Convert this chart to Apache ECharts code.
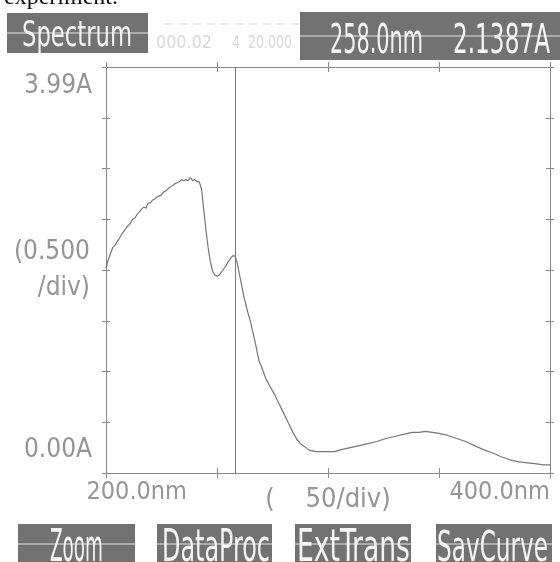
<!DOCTYPE html>
<html><head><meta charset="utf-8">
<script src="https://cdn.jsdelivr.net/npm/echarts@6/dist/echarts.min.js"></script>
<style>html,body{margin:0;padding:0;background:#fff}#c{width:560px;height:562px}</style>
</head><body><div id="c"></div>
<script>
// ---- data ----
const wavelengths = [200,201,202,203,204,205,206,207,208,209,210,211,212,213,214,215,216,217,218,219,220,221,222,223,224,225,226,227,228,229,230,231,232,233,234,235,236,237,238,239,240,241,242,243,244,245,246,247,248,249,250,251,252,253,254,255,256,257,258,259,260,261,262,263,264,265,266,267,268,269,270,271,272,274,276,278,280,282,284,286,288,290,292,295,300,303,306,310,314,318,322,326,330,334,338,341,344,347,350,354,358,362,366,370,374,378,382,386,390,394,397,400];
const absorbance = [2.02,2.10,2.16,2.22,2.24,2.28,2.31,2.35,2.38,2.41,2.44,2.46,2.50,2.51,2.55,2.57,2.60,2.62,2.61,2.66,2.66,2.69,2.70,2.72,2.73,2.74,2.77,2.78,2.80,2.82,2.83,2.85,2.86,2.87,2.89,2.88,2.89,2.88,2.91,2.88,2.89,2.87,2.87,2.80,2.60,2.40,2.22,2.08,1.99,1.95,1.94,1.95,1.98,2.01,2.04,2.08,2.11,2.14,2.14,2.08,1.97,1.86,1.75,1.66,1.57,1.50,1.40,1.31,1.20,1.10,1.05,0.99,0.93,0.85,0.77,0.68,0.59,0.50,0.41,0.33,0.28,0.25,0.22,0.21,0.21,0.21,0.23,0.25,0.27,0.29,0.31,0.34,0.36,0.38,0.40,0.40,0.41,0.40,0.39,0.37,0.34,0.31,0.27,0.23,0.20,0.16,0.13,0.11,0.10,0.09,0.08,0.08];
const cursorWavelength = 258.0;
const cursorAbsorbance = 2.1387;
const xTickLabels = {200: '200.0nm', 400: '400.0nm'};
const yTickLabels = {0: '0.00A', 4: '3.99A'};
const xAxisName = '(    50/div)';
const yAxisName = '(0.500\n/div)';
const headerTitle = 'Spectrum';
const buttons = ['Zoom', 'DataProc', 'ExtTrans', 'SavCurve'];

// ---- chart ----
const FONT = "'DejaVu Sans Condensed', 'DejaVu Sans', sans-serif";
const GREY = '#8a8a8a';
const TXT = '#959595';
const chart = echarts.init(document.getElementById('c'), null, {renderer: 'canvas'});

function xAx(pos, inside, labels) {
  return {
    type: 'value', position: pos, min: 200, max: 400, interval: 50,
    axisLine: {show: true, onZero: false, lineStyle: {color: GREY, width: 1}},
    axisTick: {show: true, inside: inside, length: 5, lineStyle: {color: GREY}},
    splitLine: {show: false},
    axisLabel: labels ? {
      show: true, color: TXT, fontFamily: FONT, fontSize: 25, margin: 7,
      formatter: v => v === 200 ? '{lo|' + xTickLabels[v] + '}' : (xTickLabels[v] || ''),
      alignMaxLabel: 'right',
      rich: {lo: {width: 162, align: 'right', color: TXT, fontFamily: FONT, fontSize: 25}}
    } : {show: false},
    name: labels ? xAxisName : '', nameLocation: 'middle', nameGap: 13, nameMoveOverlap: false,
    nameTextStyle: {color: TXT, fontFamily: FONT, fontSize: 27, verticalAlign: 'top'}
  };
}
function yAx(pos, inside, labels) {
  return {
    type: 'value', position: pos, min: 0, max: 4, interval: 0.5,
    axisLine: {show: true, onZero: false, lineStyle: {color: GREY, width: 1}},
    axisTick: {show: true, inside: inside, length: 4, lineStyle: {color: GREY}},
    splitLine: {show: false},
    axisLabel: labels ? {
      show: true, color: TXT, fontFamily: FONT, fontSize: 26, margin: 14,
      formatter: v => v === 0 ? '{b|' + yTickLabels[v] + '}' : (v === 4 ? '{t|' + yTickLabels[v] + '}' : ''),
      verticalAlignMinLabel: 'bottom', verticalAlignMaxLabel: 'top',
      rich: {
        b: {padding: [0, 0, 10, 0], color: TXT, fontFamily: FONT, fontSize: 26},
        t: {padding: [6, 0, 0, 0], color: TXT, fontFamily: FONT, fontSize: 26}
      }
    } : {show: false},
    name: labels ? yAxisName : '', nameLocation: 'middle', nameGap: 16, nameRotate: 0, nameMoveOverlap: false,
    nameTextStyle: {color: TXT, fontFamily: FONT, fontSize: 26, align: 'right', lineHeight: 36}
  };
}

// text fitted into a target box (mimics the tall, narrow dot-matrix font)
const mctx = document.createElement('canvas').getContext('2d');
function fitText(text, x0, x1, yTop, yBase, fill, z) {
  const base = 40;
  mctx.font = base + 'px ' + FONT;
  mctx.textBaseline = 'alphabetic';
  const m = mctx.measureText(text);
  const sx = (x1 - x0) / m.width;
  const asc = m.actualBoundingBoxAscent || base * 0.73;
  const sy = (yBase - yTop) / asc;
  mctx.textBaseline = 'middle';
  const off = mctx.measureText('H').actualBoundingBoxDescent || 0;
  return {type: 'text', x: x0, y: yBase - off * sy, scaleX: sx, scaleY: sy, z: z || 12,
    style: {text, fill, font: base + 'px ' + FONT, textAlign: 'left', textVerticalAlign: 'middle'}};
}

const graphics = [];
function box(x, y, w, h) {
  graphics.push({type: 'rect', shape: {x, y, width: w, height: h}, style: {fill: '#727272'}, z: 10});
  graphics.push({type: 'rect', shape: {x, y: y + Math.round(h / 2) - 1, width: w, height: 2}, style: {fill: '#ababab'}, z: 11});
}
// top cut-off text
graphics.push({type: 'text', x: 4, y: -14, z: 5, style: {text: 'experiment.', fill: '#111', font: '24px "Liberation Serif", serif'}});
// faint ghost text
graphics.push(fitText('000.02', 156, 212, 34, 48, '#d8d8d8', 5));
graphics.push(fitText('4  20.000', 232, 292, 34, 48, '#d8d8d8', 5));
graphics.push({type: 'line', shape: {x1: 165, y1: 24, x2: 300, y2: 24}, style: {stroke: '#d6d6d6', lineDash: [8, 6]}, z: 5});
// header boxes
box(7, 13, 141, 40);
graphics.push(fitText(headerTitle, 22, 132, 18, 46, '#f4f4f4'));
box(300, 12, 260, 48);
graphics.push(fitText(cursorWavelength.toFixed(1) + 'nm', 330, 423, 22, 53, '#f4f4f4'));
graphics.push(fitText(cursorAbsorbance.toFixed(4) + 'A', 453, 550, 22, 53, '#f4f4f4'));
// bottom buttons
const btnBoxes = [[18, 117, 50, 103], [157, 115, 162, 270], [295, 116, 297, 410], [436, 116, 437, 548]];
buttons.forEach((b, i) => {
  const [bx, bw, tx0, tx1] = btnBoxes[i];
  box(bx, 524, bw, 40);
  graphics.push(fitText(b, tx0, tx1, 528, 561, '#f4f4f4'));
});

chart.setOption({
  animation: false,
  backgroundColor: '#ffffff',
  grid: {left: 106, right: 10, top: 67, bottom: 89, containLabel: false, outerBoundsMode: 'none'},
  xAxis: [xAx('bottom', false, true), xAx('bottom', true, false), xAx('top', false, false), xAx('top', true, false)],
  yAxis: [yAx('left', false, true), yAx('left', true, false), yAx('right', false, false), yAx('right', true, false)],
  series: [{
    type: 'line', xAxisIndex: 0, yAxisIndex: 0,
    data: wavelengths.map((w, i) => [w, absorbance[i]]),
    showSymbol: false, symbol: 'none',
    lineStyle: {color: '#777', width: 1.2},
    markLine: {
      silent: true, symbol: 'none', label: {show: false},
      lineStyle: {color: '#777', width: 1, type: 'solid'},
      data: [{xAxis: cursorWavelength}]
    }
  }],
  graphic: graphics
});
</script></body></html>
